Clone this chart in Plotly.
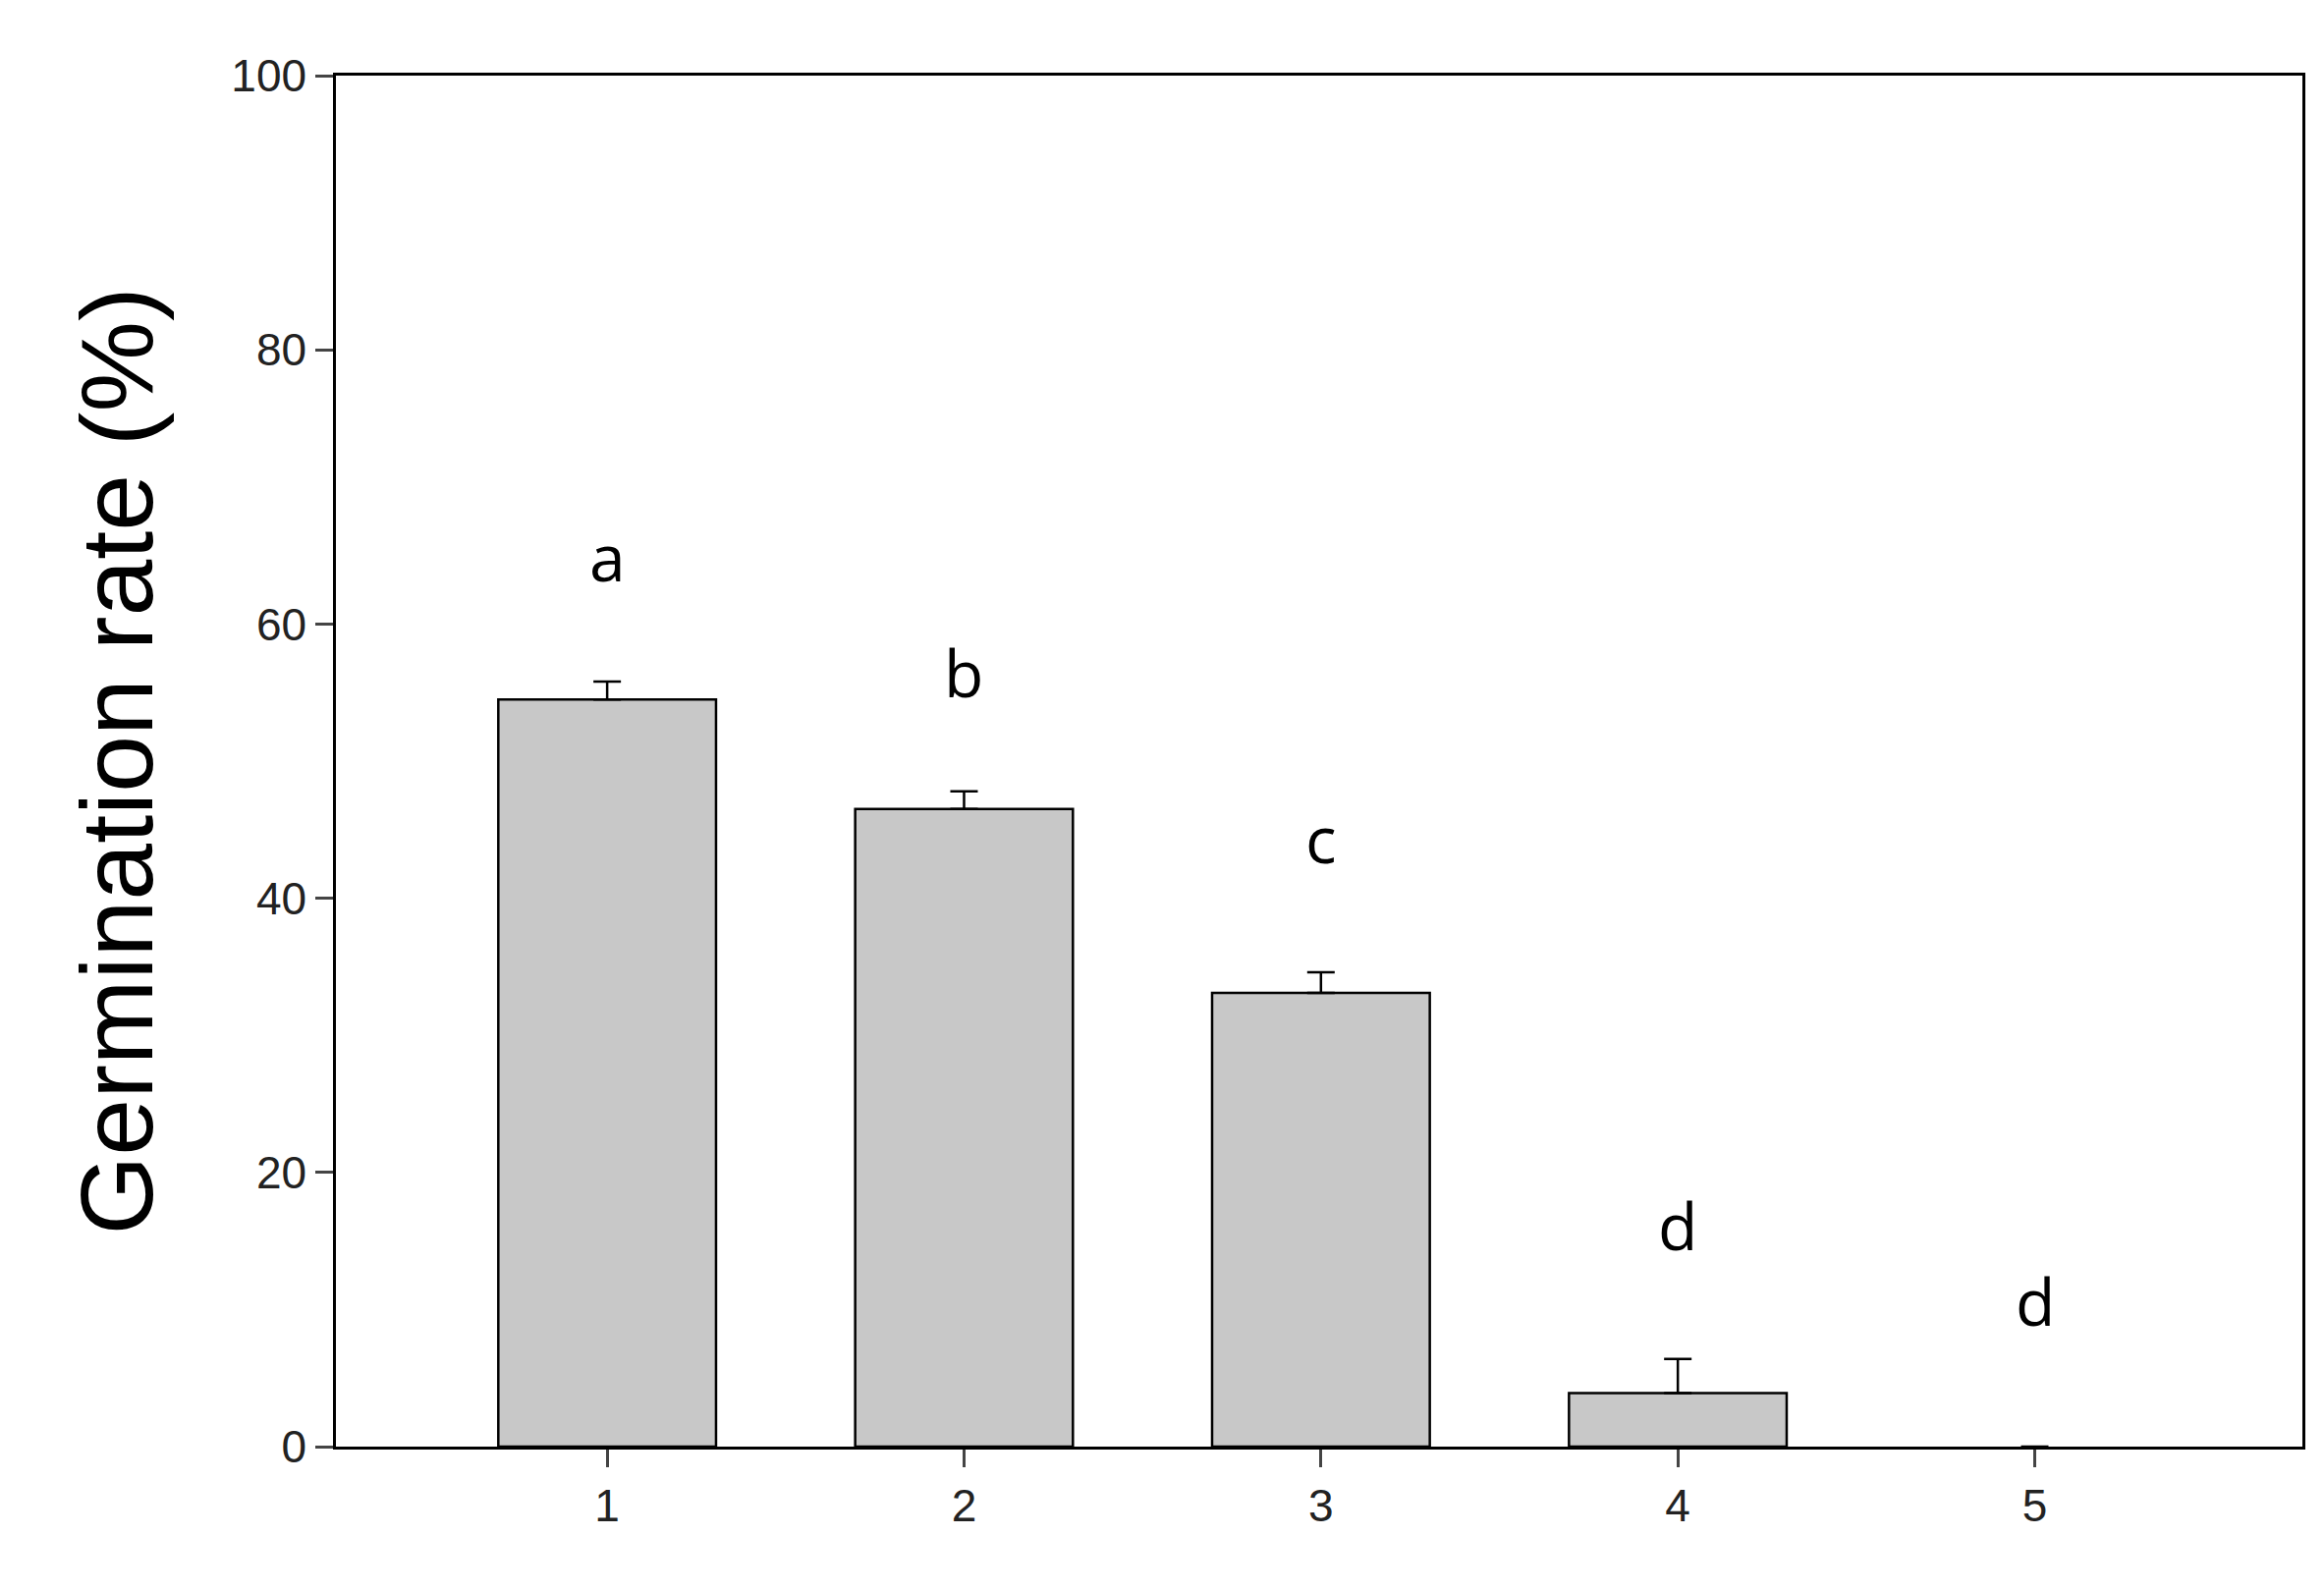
import plotly.graph_objects as go

categories = [1, 2, 3, 4, 5]
values = [54.5, 46.5, 33.1, 3.9, 0.0]
errors = [1.3, 1.3, 1.5, 2.5, 0.0]
letters = ["a", "b", "c", "d", "d"]
letter_y = [65.0, 56.5, 44.4, 16.2, 10.7]
y_ticks = [0, 20, 40, 60, 80, 100]

fig = go.Figure()
fig.add_trace(go.Bar(
    x=categories, y=values, width=0.61,
    marker=dict(color="#c8c8c8",
                line=dict(color="black", width=[2.5 if v > 0 else 0 for v in values])),
    error_y=dict(type="data", array=errors, arrayminus=[0]*5, symmetric=False,
                 color="black", thickness=2.5, width=14),
))
for c, l, y in zip(categories, letters, letter_y):
    fig.add_annotation(x=c, y=y, text=l, showarrow=False,
                       font=dict(family="Open Sans", size=66, color="black"))

tf = dict(family="Liberation Sans Narrow, Liberation Sans", size=46, color="#222")
fig.update_layout(
    width=2366, height=1619, plot_bgcolor="white", paper_bgcolor="white",
    margin=dict(l=334, r=30, t=69, b=154), showlegend=False,
    xaxis=dict(range=[0.24, 5.75], tickvals=categories, ticks="outside", ticklen=18,
               tickwidth=2.5, showline=True, linewidth=2.5, linecolor="black", mirror=True,
               showgrid=False, tickfont=tf),
    yaxis=dict(range=[0, 100], tickvals=y_ticks, ticks="outside", ticklen=18,
               tickwidth=2.5, showline=True, linewidth=2.5, linecolor="black", mirror=True,
               showgrid=False, zeroline=False, tickfont=tf,
               title=dict(text="Germination rate (%)", standoff=45,
                          font=dict(family="Liberation Sans", size=104, color="black"))),
)
fig.write_html("out.html")
